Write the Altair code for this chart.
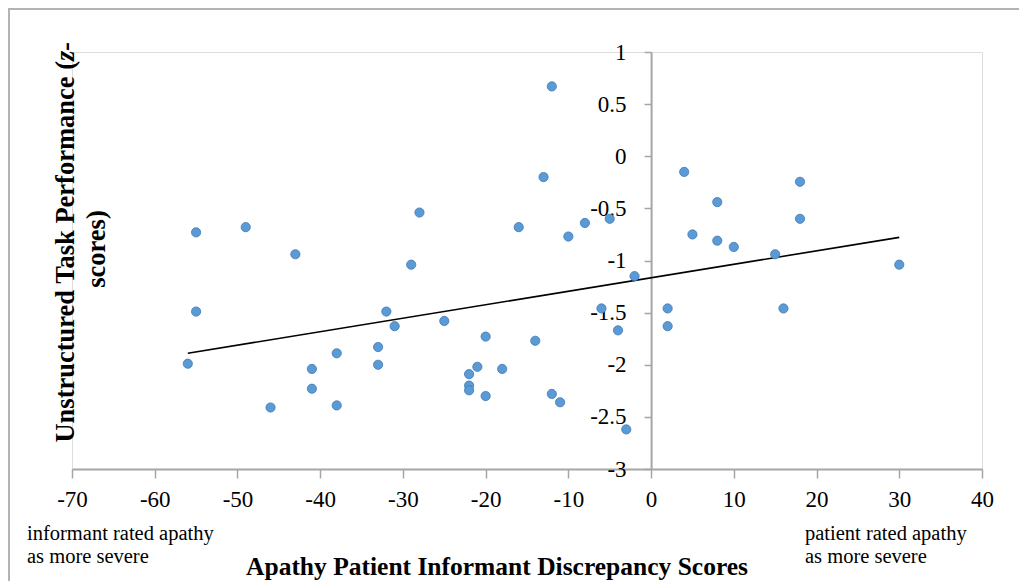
import altair as alt
import pandas as pd

# Apathy patient-informant discrepancy scores (x) and unstructured task z-scores (y)
x_scores = [-56, -55, -55, -49, -46, -43, -41, -41, -38, -38, -33, -33, -32, -31,
            -29, -28, -25, -22, -22, -22, -21, -20, -20, -18, -16, -14, -13, -12,
            -12, -11, -10, -8, -6, -5, -4, -3, -2, 2, 2, 4, 5, 8, 8, 10, 15, 16,
            18, 18, 30]
y_scores = [-1.99, -0.73, -1.49, -0.68, -2.41, -0.94, -2.04, -2.23, -1.89, -2.39,
            -1.83, -2.00, -1.49, -1.63, -1.04, -0.54, -1.58, -2.09, -2.20, -2.245,
            -2.02, -1.73, -2.30, -2.04, -0.68, -1.77, -0.20, 0.67, -2.28, -2.36,
            -0.77, -0.64, -1.46, -0.60, -1.67, -2.62, -1.15, -1.46, -1.63, -0.15,
            -0.75, -0.44, -0.81, -0.87, -0.94, -1.46, -0.245, -0.60, -1.04]

x_ticks = [-70, -60, -50, -40, -30, -20, -10, 0, 10, 20, 30, 40]
y_ticks = [-3, -2.5, -2, -1.5, -1, -0.5, 0, 0.5, 1]

df = pd.DataFrame({"x": x_scores, "y": y_scores})

W, H = 910, 417
FONT = "Liberation Serif"
AXIS_GREY = "#a6a6a6"

x_enc = alt.X("x:Q",
              scale=alt.Scale(domain=[-70, 40], nice=False, zero=False),
              axis=alt.Axis(values=x_ticks, title=None, grid=False,
                            domainColor=AXIS_GREY, domainWidth=2,
                            tickColor=AXIS_GREY, tickWidth=1.5, tickSize=9,
                            labelFont=FONT, labelFontSize=23, labelColor="#000",
                            labelPadding=10, labelFlush=False,
                            labelExpr="'' + datum.value"))
y_enc = alt.Y("y:Q",
              scale=alt.Scale(domain=[-3, 1], nice=False, zero=False),
              axis=alt.Axis(values=y_ticks, title=None, grid=False,
                            offset=-W * 70 / 110,
                            domainColor=AXIS_GREY, domainWidth=2,
                            tickColor=AXIS_GREY, tickWidth=1.5, tickSize=7,
                            labelFont=FONT, labelFontSize=23, labelColor="#000",
                            labelPadding=18, labelFlush=False,
                            labelExpr="'' + datum.value"))

points = alt.Chart(df).mark_circle(
    size=85, color="#5b9bd5", opacity=1, stroke="#3f77b8", strokeWidth=0.8
).encode(x=x_enc, y=y_enc)

trend = alt.Chart(df).transform_regression("x", "y").mark_line(
    color="#000000", strokeWidth=1.6
).encode(x="x:Q", y="y:Q")

one = alt.Data(values=[{}])

border = alt.Chart(one).mark_rect(
    fill=None, stroke="#b3b3b3", strokeWidth=2
).encode(x=alt.value(-63), y=alt.value(-43), x2=alt.value(W + 100), y2=alt.value(H + 200))


def label(text, x, y, size, weight="normal", align="center", angle=0, style="normal"):
    return alt.Chart(one).mark_text(
        text=text, font=FONT, fontSize=size, fontWeight=weight, fontStyle=style,
        align=align, baseline="middle", angle=angle, color="#000"
    ).encode(x=alt.value(x), y=alt.value(y))


texts = [
    label("Apathy Patient Informant Discrepancy Scores", 425, 515, 25.5, "bold"),
    label("informant rated apathy", -45, 482, 20.5, align="left"),
    label("as more severe", -45, 505, 20.5, align="left"),
    label("patient rated apathy", 733, 482, 20.5, align="left"),
    label("as more severe", 733, 505, 20.5, align="left"),
    label("Unstructured Task Performance (", -6, 9, 26.5, "bold", align="right", angle=270),
    label("z-", -6, 9, 26.5, "bold", align="left", angle=270, style="italic"),
    label("scores)", 25, 197, 26.5, "bold", angle=270),
]

chart = alt.layer(border, trend, points, *texts).properties(
    width=W, height=H,
    autosize=alt.AutoSizeParams(type="none"),
    padding={"left": 64, "top": 44, "right": 37, "bottom": 112},
).configure_view(stroke=None).configure(background="white")

chart.save("out.html", embed_options={"renderer": "svg", "actions": False})
